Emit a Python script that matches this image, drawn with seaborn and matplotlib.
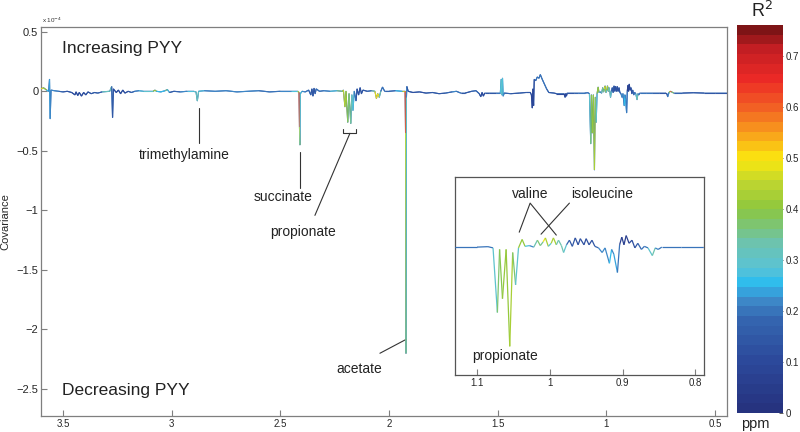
import numpy as np
import matplotlib
matplotlib.use("Agg")
import matplotlib.pyplot as plt
import seaborn as sns
import pandas as pd
from matplotlib.collections import LineCollection
from matplotlib.colors import LinearSegmentedColormap, Normalize
from matplotlib.cm import ScalarMappable

# spectrum trace: chemical shift (ppm), covariance (x1e-4), R^2
ppm = [3.600, 3.590, 3.575, 3.566, 3.562, 3.559, 3.555, 3.540, 3.520, 3.500, 3.480, 3.460,
       3.445, 3.440, 3.432, 3.425, 3.415, 3.405, 3.395, 3.385, 3.370, 3.355, 3.340, 3.320,
       3.285, 3.276, 3.272, 3.268, 3.255, 3.245, 3.235, 3.225, 3.215, 3.200, 3.185, 3.170,
       3.150, 3.130, 3.085, 3.077, 3.070, 3.050, 3.030, 3.020, 3.010, 2.990, 2.960, 2.930,
       2.900, 2.888, 2.882, 2.876, 2.850, 2.800, 2.750, 2.700, 2.650, 2.600, 2.550, 2.500,
       2.450, 2.420, 2.414, 2.412, 2.410, 2.408, 2.400, 2.385, 2.370, 2.360, 2.355, 2.350,
       2.345, 2.340, 2.335, 2.320, 2.300, 2.270, 2.240, 2.215, 2.210, 2.203, 2.198, 2.190,
       2.184, 2.176, 2.171, 2.166, 2.160, 2.152, 2.147, 2.140, 2.133, 2.127, 2.120, 2.100,
       2.080, 2.065, 2.058, 2.052, 2.045, 2.038, 2.030, 2.020, 2.000, 1.970, 1.940, 1.926,
       1.924, 1.922, 1.920, 1.918, 1.912, 1.890, 1.860, 1.830, 1.800, 1.770, 1.740, 1.710,
       1.690, 1.670, 1.650, 1.620, 1.600, 1.585, 1.578, 1.572, 1.566, 1.560, 1.540, 1.510,
       1.488, 1.484, 1.481, 1.478, 1.475, 1.470, 1.440, 1.400, 1.370, 1.350, 1.345, 1.341,
       1.338, 1.335, 1.332, 1.325, 1.318, 1.310, 1.304, 1.295, 1.285, 1.275, 1.265, 1.240,
       1.230, 1.195, 1.190, 1.187, 1.184, 1.180, 1.150, 1.130, 1.100, 1.085, 1.078, 1.072,
       1.069, 1.065, 1.060, 1.055, 1.051, 1.047, 1.043, 1.038, 1.034, 1.028, 1.022, 1.017,
       1.013, 1.009, 1.006, 1.002, 0.998, 0.995, 0.991, 0.988, 0.984, 0.981, 0.977, 0.973,
       0.969, 0.965, 0.961, 0.958, 0.953, 0.950, 0.946, 0.942, 0.938, 0.933, 0.928, 0.924,
       0.918, 0.915, 0.912, 0.907, 0.904, 0.901, 0.898, 0.895, 0.891, 0.887, 0.883, 0.879,
       0.874, 0.870, 0.865, 0.859, 0.855, 0.851, 0.846, 0.820, 0.790, 0.760, 0.730, 0.722,
       0.718, 0.712, 0.706, 0.700, 0.690, 0.650, 0.600, 0.550, 0.500, 0.445]
cov = [0.020, 0.030, 0.010, 0.000, 0.100, -0.230, 0.010, 0.005, 0.000, -0.005, 0.000, -0.010,
       -0.030, -0.005, -0.035, -0.010, -0.040, -0.010, -0.030, -0.005, -0.020, -0.010, -0.015, -0.005,
       0.000, 0.040, -0.220, 0.020, -0.010, 0.010, -0.020, 0.010, -0.015, 0.000, -0.010, 0.000,
       0.005, 0.000, 0.000, 0.010, 0.000, -0.005, 0.005, 0.015, -0.010, 0.000, -0.005, 0.000,
       0.000, -0.005, -0.080, 0.000, 0.005, 0.000, 0.005, -0.005, 0.000, 0.005, -0.005, 0.000,
       0.000, 0.000, -0.010, -0.300, -0.450, -0.020, 0.000, -0.005, 0.010, -0.030, 0.020, -0.040,
       0.025, -0.020, 0.020, 0.000, 0.005, 0.000, 0.005, 0.000, 0.010, -0.130, 0.000, -0.260,
       -0.020, -0.270, -0.030, -0.160, 0.000, -0.080, 0.020, -0.030, 0.030, -0.020, 0.010, 0.000,
       0.005, 0.000, -0.060, -0.020, -0.050, 0.000, 0.035, 0.000, 0.000, 0.005, 0.000, 0.000,
       -0.350, -2.200, -0.050, 0.040, 0.000, -0.010, -0.005, -0.015, -0.010, -0.020, -0.015, -0.005,
       0.000, -0.015, -0.015, 0.000, 0.005, -0.020, -0.045, -0.010, -0.040, -0.015, -0.015, -0.015,
       -0.015, 0.100, -0.030, 0.110, -0.040, -0.015, -0.020, -0.015, -0.010, -0.010, -0.030, -0.140,
       0.020, -0.120, 0.100, 0.090, 0.120, 0.110, 0.140, 0.100, 0.060, 0.020, -0.010, -0.015,
       -0.020, -0.020, -0.050, -0.020, -0.040, -0.015, -0.015, -0.015, -0.015, -0.012, -0.020, -0.440,
       -0.030, -0.350, -0.030, -0.660, -0.050, -0.260, -0.020, 0.035, -0.010, -0.005, -0.015, 0.030,
       -0.005, 0.020, 0.045, -0.010, 0.010, 0.045, 0.000, 0.030, -0.005, -0.050, 0.000, 0.030,
       -0.010, 0.045, 0.000, 0.040, 0.000, 0.040, 0.000, 0.030, -0.010, -0.020, -0.050, -0.020,
       -0.120, -0.030, -0.060, -0.180, 0.000, 0.050, 0.000, 0.060, 0.010, 0.030, -0.020, 0.010,
       -0.030, -0.010, -0.020, -0.070, -0.020, -0.030, -0.015, -0.015, -0.015, -0.015, -0.015, -0.020,
       -0.045, -0.010, 0.000, -0.005, -0.015, -0.015, -0.012, -0.015, -0.015, -0.015]
r2 = [0.45, 0.50, 0.30, 0.20, 0.22, 0.25, 0.20, 0.25, 0.20, 0.15, 0.12, 0.12,
      0.10, 0.10, 0.10, 0.10, 0.10, 0.10, 0.12, 0.12, 0.12, 0.15, 0.15, 0.18,
      0.45, 0.20, 0.15, 0.12, 0.10, 0.10, 0.10, 0.10, 0.12, 0.12, 0.15, 0.20,
      0.25, 0.30, 0.30, 0.50, 0.30, 0.20, 0.30, 0.40, 0.15, 0.15, 0.20, 0.25,
      0.30, 0.30, 0.32, 0.30, 0.25, 0.20, 0.25, 0.20, 0.25, 0.20, 0.20, 0.20,
      0.25, 0.30, 0.60, 0.65, 0.30, 0.30, 0.25, 0.20, 0.20, 0.15, 0.15, 0.15,
      0.15, 0.15, 0.20, 0.20, 0.20, 0.25, 0.30, 0.40, 0.45, 0.45, 0.40, 0.40,
      0.35, 0.38, 0.30, 0.30, 0.25, 0.15, 0.12, 0.12, 0.12, 0.12, 0.12, 0.15,
      0.20, 0.45, 0.50, 0.50, 0.45, 0.20, 0.20, 0.20, 0.15, 0.20, 0.30, 0.60,
      0.62, 0.30, 0.30, 0.15, 0.12, 0.12, 0.12, 0.12, 0.15, 0.15, 0.15, 0.20,
      0.25, 0.15, 0.15, 0.15, 0.20, 0.15, 0.10, 0.10, 0.10, 0.12, 0.15, 0.15,
      0.25, 0.30, 0.28, 0.30, 0.25, 0.20, 0.15, 0.15, 0.15, 0.12, 0.10, 0.08,
      0.08, 0.08, 0.12, 0.20, 0.20, 0.20, 0.20, 0.20, 0.20, 0.20, 0.15, 0.12,
      0.12, 0.10, 0.10, 0.10, 0.10, 0.12, 0.15, 0.20, 0.20, 0.20, 0.20, 0.40,
      0.35, 0.42, 0.40, 0.42, 0.45, 0.30, 0.30, 0.50, 0.30, 0.25, 0.20, 0.45,
      0.30, 0.40, 0.55, 0.30, 0.30, 0.55, 0.30, 0.35, 0.30, 0.38, 0.20, 0.15,
      0.15, 0.12, 0.12, 0.12, 0.12, 0.12, 0.12, 0.12, 0.15, 0.20, 0.25, 0.20,
      0.25, 0.25, 0.20, 0.28, 0.10, 0.05, 0.08, 0.05, 0.10, 0.10, 0.15, 0.15,
      0.20, 0.20, 0.20, 0.40, 0.25, 0.20, 0.20, 0.20, 0.20, 0.15, 0.15, 0.15,
      0.15, 0.30, 0.60, 0.55, 0.20, 0.15, 0.15, 0.15, 0.15, 0.15]

main_xticks = [3.5, 3, 2.5, 2, 1.5, 1, 0.5]
main_xlabels = ["3.5", "3", "2.5", "2", "1.5", "1", "0.5"]
main_yticks = [0.5, 0, -0.5, -1, -1.5, -2, -2.5]
main_ylabels = ["0.5", "0", "\u22120.5", "\u22121", "\u22121.5", "\u22122", "\u22122.5"]
inset_xticks = [1.1, 1, 0.9, 0.8]
inset_xlabels = ["1.1", "1", "0.9", "0.8"]
cbar_ticks = [0, 0.1, 0.2, 0.3, 0.4, 0.5, 0.6, 0.7]
cbar_labels = ["0", "0.1", "0.2", "0.3", "0.4", "0.5", "0.6", "0.7"]

sns.set_theme(style="ticks")
plt.rcParams['font.family'] = ['Liberation Sans', 'DejaVu Sans']

r2_max = 0.76
anchors = [(0.00, "#26337f"), (0.10, "#2c4a9c"), (0.18, "#3466b0"), (0.22, "#3f8ccb"),
           (0.25, "#2bbcef"), (0.28, "#59c3d6"), (0.33, "#6cc3b0"), (0.40, "#8cc63f"),
           (0.45, "#bcd530"), (0.50, "#fbe80f"), (0.55, "#f9a21b"), (0.60, "#f26424"),
           (0.66, "#ec2a26"), (0.72, "#c41e23"), (0.76, "#7e1416")]
cmap = LinearSegmentedColormap.from_list("r2", [(v / r2_max, c) for v, c in anchors], N=40)
norm = Normalize(0, r2_max)

df = pd.DataFrame({"ppm": ppm, "cov": cov, "r2": r2})


def colored_trace(a, lw):
    pts = df[["ppm", "cov"]].to_numpy()
    segs = np.stack([pts[:-1], pts[1:]], axis=1)
    vals = (df["r2"].to_numpy()[:-1] + df["r2"].to_numpy()[1:]) / 2
    lc = LineCollection(segs, cmap=cmap, norm=norm, linewidth=lw, zorder=3)
    lc.set_array(vals)
    a.add_collection(lc)


gray = "#7f7f7f"

fig = plt.figure(figsize=(8, 4.32), dpi=100)
ax = fig.add_axes([0.0513, 0.037, 0.8575, 0.9005])
sns.lineplot(data=df, x="ppm", y="cov", ax=ax, sort=False, estimator=None,
             color="#3466b0", linewidth=0.8)
colored_trace(ax, 0.8)
ax.set_xlim(3.601, 0.445)
ax.set_ylim(-2.727, 0.54)
ax.set_xticks(main_xticks)
ax.set_xticklabels(main_xlabels)
ax.set_yticks(main_yticks)
ax.set_yticklabels(main_ylabels)
ax.tick_params(direction="in", length=4, width=0.8, color=gray, pad=2)
ax.tick_params(axis="x", labelsize=7)
ax.tick_params(axis="y", labelsize=8)
for s in ax.spines.values():
    s.set_color(gray)
    s.set_linewidth(0.9)
ax.set_xlabel("")
ax.set_ylabel("Covariance", fontsize=8, labelpad=4)

fig.text(0.052, 0.948, r"x 10$^{-4}$", fontsize=4.5, color="#333333")

ax.text(3.228, 0.361, "Increasing PYY", fontsize=12.5, ha="center", va="center", color="#222222")
ax.text(3.210, -2.513, "Decreasing PYY", fontsize=12.5, ha="center", va="center", color="#222222")

lab = dict(fontsize=10, ha="center", va="center", color="#222222")
ln = dict(color="#333333", linewidth=0.8)
# trimethylamine
ax.plot([2.874, 2.874], [-0.143, -0.437], **ln)
ax.text(2.943, -0.538, "trimethylamine", **lab)
# succinate
ax.plot([2.410, 2.410], [-0.51, -0.815], **ln)
ax.text(2.488, -0.89, "succinate", **lab)
# propionate bracket
ax.plot([2.212, 2.212, 2.152, 2.152], [-0.319, -0.353, -0.353, -0.319], **ln)
ax.plot([2.180, 2.341], [-0.353, -1.042], **ln)
ax.text(2.396, -1.185, "propionate", **lab)
# acetate
ax.plot([1.922, 2.042], [-2.084, -2.20], **ln)
ax.text(2.138, -2.336, "acetate", **lab)

# inset zoom on 0.8-1.1 ppm
axi = fig.add_axes([0.569, 0.132, 0.311, 0.458])
axi.set_facecolor("white")
colored_trace(axi, 0.9)
axi.set_xlim(1.13, 0.788)
axi.set_ylim(-0.846, 0.44)
axi.set_xticks(inset_xticks)
axi.set_xticklabels(inset_xlabels)
axi.set_yticks([])
axi.tick_params(direction="in", length=4, width=0.8, color=gray, labelsize=7, pad=2)
for s in axi.spines.values():
    s.set_color("#555555")
    s.set_linewidth(0.9)
axi.text(1.027, 0.329, "valine", **lab)
axi.text(0.928, 0.329, "isoleucine", **lab)
axi.plot([1.042, 1.027, 0.991], [0.082, 0.271, 0.063], **ln)
axi.plot([0.973, 1.012], [0.271, 0.069], **ln)
axi.text(1.061, -0.723, "propionate", **lab)

# colour bar
cax = fig.add_axes([0.921, 0.044, 0.058, 0.898])
sm = ScalarMappable(norm=norm, cmap=cmap)
cb = fig.colorbar(sm, cax=cax, ticks=cbar_ticks)
cb.ax.set_yticklabels(cbar_labels)
cb.outline.set_visible(False)
cb.ax.tick_params(direction="in", length=3, width=0.6, color="#444444", labelsize=7, pad=2)
fig.text(0.952, 0.975, r"R$^2$", fontsize=13, ha="center", va="center", color="#222222")
fig.text(0.944, 0.018, "ppm", fontsize=10.5, ha="center", va="center", color="#222222")

fig.savefig("out.png", dpi=100)
